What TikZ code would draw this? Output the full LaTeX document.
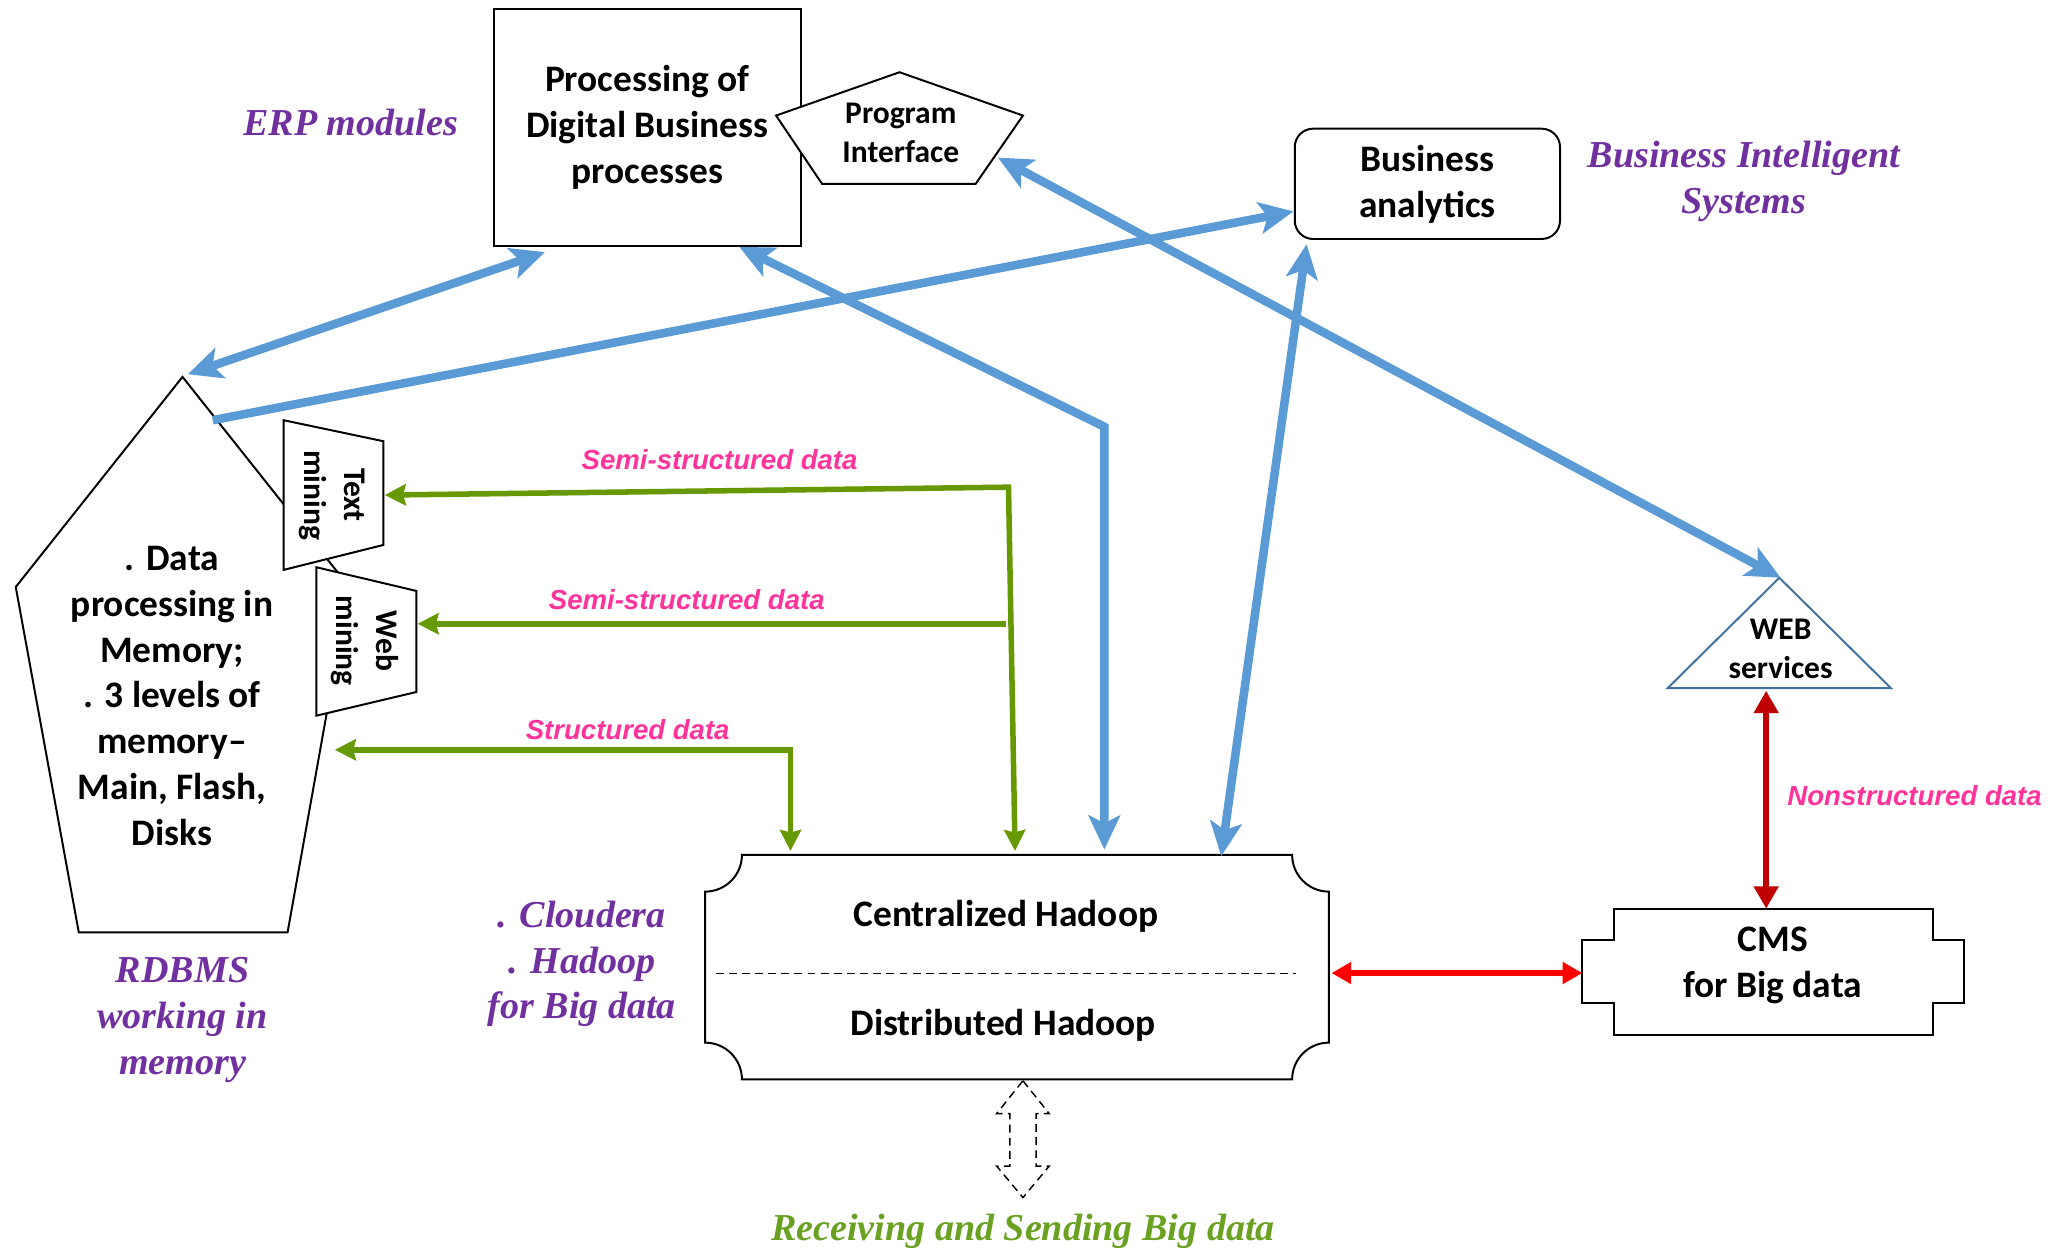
\documentclass[tikz,border=0pt]{standalone}
\usepackage{fontspec}
\setmainfont{Carlito}
\newfontfamily\tnr{Liberation Serif}
\newfontfamily\arl{Liberation Sans}
\usetikzlibrary{arrows.meta}
\definecolor{bluearr}{HTML}{5B9BD5}
\definecolor{greenarr}{HTML}{669900}
\definecolor{greentxt}{HTML}{6AA121}
\definecolor{pinkC}{HTML}{FF3399}
\definecolor{purpleC}{HTML}{7030A0}
\definecolor{redA}{HTML}{FF0000}
\definecolor{redB}{HTML}{C00000}
\definecolor{triC}{HTML}{41719C}
\tikzset{
  shapeline/.style={draw=black, line width=1.5pt, fill=white, line join=miter},
  lbl/.style={font=\bfseries\fontsize{28.5}{35}\selectfont, align=center, inner sep=0pt},
  smalllbl/.style={font=\bfseries\fontsize{24}{30}\selectfont, align=center, inner sep=0pt},
  purp/.style={text=purpleC, font=\tnr\bfseries\itshape\fontsize{29}{35}\selectfont, align=center, inner sep=0pt},
  pinklbl/.style={text=pinkC, font=\arl\bfseries\itshape\fontsize{21}{26}\selectfont, inner sep=0pt},
  bluearrow/.style={draw=bluearr, line width=6.5pt, line join=miter,
     {Stealth[length=26pt,width=24pt,inset=6pt]}-{Stealth[length=26pt,width=24pt,inset=6pt]}},
  bluesingle/.style={draw=bluearr, line width=6.5pt, -{Stealth[length=26pt,width=24pt,inset=6pt]}},
  greenarrow/.style={draw=greenarr, line width=4.2pt, line join=miter,
     {Stealth[length=16pt,width=16pt,inset=2pt]}-{Stealth[length=16pt,width=16pt,inset=2pt]}},
  greensingle/.style={draw=greenarr, line width=4.2pt, -{Stealth[length=16pt,width=16pt,inset=2pt]}},
  redarrow/.style={draw=redA, line width=4.2pt, {Triangle[length=15pt,width=16pt]}-{Triangle[length=15pt,width=16pt]}},
  darkredarrow/.style={draw=redB, line width=4.6pt, {Triangle[length=17pt,width=18pt]}-{Triangle[length=17pt,width=18pt]}},
}
\begin{document}
\begin{tikzpicture}[x=1pt,y=-1pt]
\useasboundingbox (0,0) rectangle (1568,953);

% ---------- shapes ----------
% Processing box
\node[shapeline, minimum width=234pt, minimum height=180pt, lbl] (proc) at (493,97)
  {Processing of\\Digital Business\\processes};
% Program Interface pentagon
\path[shapeline] (685,55) -- (779,88) -- (743,140) -- (626,140) -- (591,88) -- cycle;
\node[smalllbl] (progif) at (686,101) {Program\\Interface};

% Business analytics
\node[shapeline, rounded corners=14pt, minimum width=202pt, minimum height=84pt, lbl] (ba) at (1087,140)
  {Business\\analytics};

% RDBMS pentagon
\path[shapeline] (139,287) -- (266,447) -- (219,710) -- (60,710) -- (12,447) -- cycle;
\node[lbl] (rdbms) at (131,530)
  {. Data\\processing in\\Memory;\\. 3 levels of\\memory--\\Main, Flash,\\Disks};

% Text mining trapezoid
\path[shapeline] (216,320) -- (292,336) -- (292,415) -- (216,434) -- cycle;
\node[smalllbl, rotate=-90] (textmining) at (253,377) {Text\\mining};
% Web mining trapezoid
\path[shapeline] (241,432) -- (317,450) -- (317,527) -- (241,545) -- cycle;
\node[smalllbl, rotate=-90] (webmining) at (278,488) {Web\\mining};

% Hadoop plaque
\path[shapeline] (565,651) -- (984,651) arc[start angle=180,end angle=90,radius=28]
  -- (1012,794) arc[start angle=270,end angle=180,radius=28]
  -- (565,822) arc[start angle=0,end angle=-90,radius=28]
  -- (537,679) arc[start angle=90,end angle=0,radius=28] -- cycle;
\coordinate (hadL) at (545,741);
\coordinate (hadR) at (987,741);
\draw[line width=0.8pt, dash pattern=on 6pt off 4pt] (hadL) -- (hadR);
\node[lbl] (central) at (766,698) {Centralized Hadoop};
\node[lbl] (distrib) at (764,781) {Distributed Hadoop};

% CMS shape
\path[shapeline] (1229,692) -- (1472,692) -- (1472,716) -- (1496,716) -- (1496,764) -- (1472,764)
  -- (1472,788) -- (1229,788) -- (1229,764) -- (1205,764) -- (1205,716) -- (1229,716) -- cycle;
\node[lbl] (cms) at (1350,735) {CMS\\for Big data};

% WEB services triangle
\path[draw=triC, line width=1.5pt, fill=white] (1355,440) -- (1440,524) -- (1270,524) -- cycle;
\node[smalllbl] (web) at (1356,494) {WEB\\services};

% dashed block double arrow
\draw[line width=1.1pt, dash pattern=on 6pt off 4pt]
  (779,823) -- (799,848) -- (789,848) -- (789,888) -- (799,888) -- (779,912)
  -- (759,888) -- (769,888) -- (769,848) -- (759,848) -- cycle;

% ---------- connector end points ----------
\coordinate (rdbmsTop) at (143,285);
\coordinate (procBL) at (415,192);
\coordinate (rdbmsR) at (162,320);
\coordinate (baL) at (985,161);
\coordinate (procB) at (563,188);
\coordinate (bend1) at (841,325);
\coordinate (hadT1) at (841,647);
\coordinate (baB) at (995,186);
\coordinate (hadT2) at (930,652);
\coordinate (progR) at (760,120);
\coordinate (webTop) at (1356,440);
\coordinate (tmR) at (293,377);
\coordinate (gsplit) at (768,371);
\coordinate (hadT3) at (773,648);
\coordinate (gmid) at (766,475);
\coordinate (wmR) at (318,475);
\coordinate (hadT4) at (602,648);
\coordinate (gcorner) at (602,571);
\coordinate (rdbmsSide) at (255,571);
\coordinate (hadRight) at (1014,741);
\coordinate (cmsL) at (1205,741);
\coordinate (webB) at (1345,526);
\coordinate (cmsT) at (1345,692);

% ---------- blue connectors ----------
\draw[bluearrow] (rdbmsTop) -- (procBL);
\draw[bluesingle] (rdbmsR) -- (baL);
\draw[bluearrow] (procB) -- (bend1) -- (hadT1);
\draw[bluearrow] (baB) -- (hadT2);
\draw[bluearrow] (progR) -- (webTop);

% ---------- green connectors ----------
\draw[greenarrow] (tmR) -- (gsplit) -- (hadT3);
\draw[greensingle] (gmid) -- (wmR);
\draw[greenarrow] (hadT4) -- (gcorner) -- (rdbmsSide);

% ---------- red connectors ----------
\draw[redarrow] (hadRight) -- (cmsL);
\draw[darkredarrow] (webB) -- (cmsT);

% ---------- labels ----------
\node[purp] (erp) at (267,93) {ERP modules};
\node[purp] (bis) at (1328,138) {Business Intelligent\\Systems};
\node[purp] (rdbmslbl) at (139,777) {RDBMS\\working in\\memory};
\node[purp] (cloudera) at (443,734) {. Cloudera\\. Hadoop\\for Big data};
\node[purp, text=greentxt] (recv) at (779,938) {Receiving and Sending Big data};

\node[pinklbl] (semi1) at (548,350) {Semi-structured data};
\node[pinklbl] (semi2) at (523,457) {Semi-structured data};
\node[pinklbl] (struct) at (478,556) {Structured data};
\node[pinklbl] (nonstruct) at (1458,606) {Nonstructured data};
\end{tikzpicture}
\end{document}
